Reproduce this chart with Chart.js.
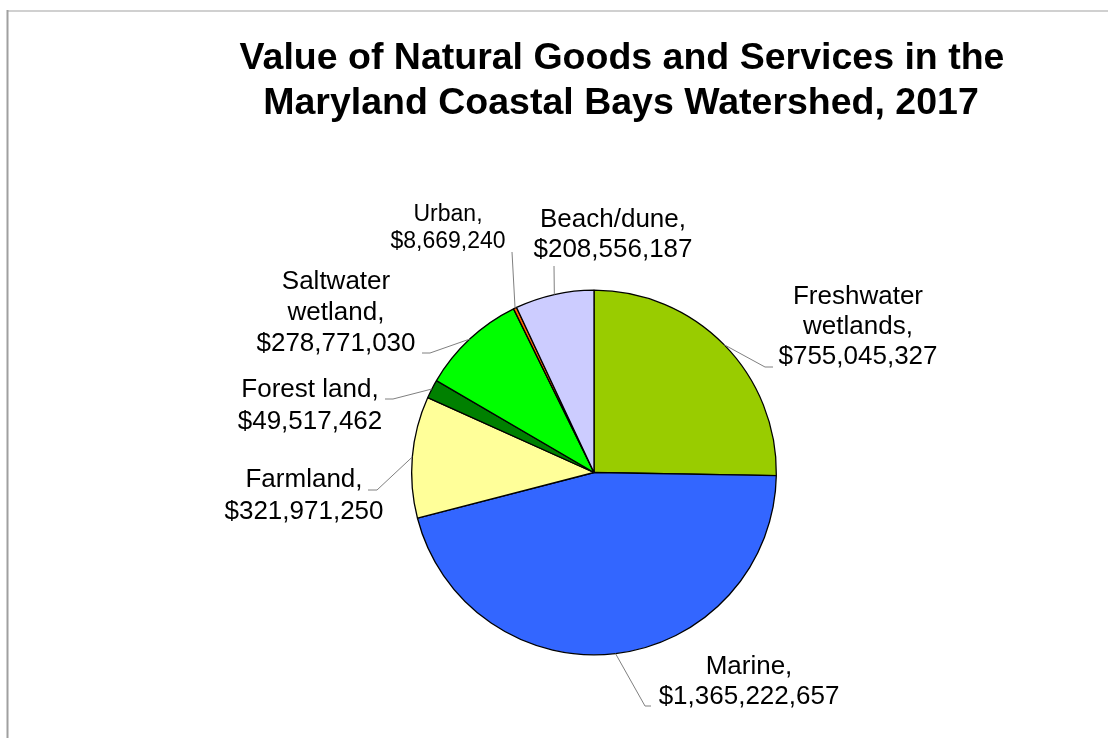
<!DOCTYPE html>
<html>
<head>
<meta charset="utf-8">
<script src="https://cdn.jsdelivr.net/npm/chart.js@4"></script>
<style>
  html, body { margin: 0; padding: 0; background: #fff; }
  #chart { display: block; }
</style>
</head>
<body>
<canvas id="chart" width="1109" height="738"></canvas>
<script>
'use strict'

const titleLines = [
  'Value of Natural Goods and Services in the',
  'Maryland Coastal Bays Watershed, 2017'
]

const categories = [
  'Freshwater wetlands',
  'Marine',
  'Farmland',
  'Forest land',
  'Saltwater wetland',
  'Urban',
  'Beach/dune'
]

const values = [
  755045327,
  1365222657,
  321971250,
  49517462,
  278771030,
  8669240,
  208556187
]

// label text as printed next to each slice (line breaks included)
const labelLines = [
  ['Freshwater', 'wetlands,'],
  ['Marine,'],
  ['Farmland,'],
  ['Forest land,'],
  ['Saltwater', 'wetland,'],
  ['Urban,'],
  ['Beach/dune,']
]

const colors = ['#99CC00', '#3366FF', '#FFFF99', '#008000', '#00FF00', '#FF6600', '#CCCCFF']

// where each label sits and how its leader line bends (x, y in canvas px)
const labelLayout = [
  { x: 858, y: 297, size: 26, lh: 30, elbow: [765, 367], end: [773, 367] },
  { x: 749, y: 667, size: 26, lh: 30, elbow: [645, 706], end: [651, 706] },
  { x: 304, y: 480, size: 26, lh: 32, elbow: [377, 490], end: [368, 490] },
  { x: 310, y: 390, size: 26, lh: 32, elbow: [393, 399], end: [385, 399] },
  { x: 336, y: 282, size: 26, lh: 31, elbow: [430, 353], end: [422, 353] },
  { x: 448, y: 215, size: 23, lh: 27, elbow: null, end: [512, 252] },
  { x: 613, y: 220, size: 26, lh: 30, elbow: null, end: [554, 266] }
]

const money = v => '$' + v.toLocaleString('en-US')

const decorations = {
  id: 'decorations',
  beforeDraw(chart) {
    const ctx = chart.ctx
    ctx.save()
    ctx.fillStyle = '#fff'
    ctx.fillRect(0, 0, chart.width, chart.height)
    // frame edges
    ctx.strokeStyle = '#d0d0d0'
    ctx.lineWidth = 2
    ctx.beginPath()
    ctx.moveTo(7, 11)
    ctx.lineTo(1108, 11)
    ctx.stroke()
    ctx.strokeStyle = '#a0a0a0'
    ctx.beginPath()
    ctx.moveTo(7.5, 10)
    ctx.lineTo(7.5, chart.height)
    ctx.stroke()

    ctx.fillStyle = '#000'
    ctx.font = 'bold 37.5px "Liberation Sans", Arial, sans-serif'
    ctx.textAlign = 'center'
    ctx.textBaseline = 'alphabetic'
    ctx.fillText(titleLines[0], 622, 69)
    ctx.fillText(titleLines[1], 621, 114)
    ctx.restore()
  },
  afterDraw(chart) {
    const ctx = chart.ctx
    const arcs = chart.getDatasetMeta(0).data
    ctx.save()
    arcs.forEach((arc, i) => {
      const layout = labelLayout[i]
      const mid = (arc.startAngle + arc.endAngle) / 2
      const sx = arc.x + Math.cos(mid) * arc.outerRadius
      const sy = arc.y + Math.sin(mid) * arc.outerRadius

      ctx.strokeStyle = '#808080'
      ctx.lineWidth = 1
      ctx.beginPath()
      ctx.moveTo(sx, sy)
      if (layout.elbow) ctx.lineTo(layout.elbow[0], layout.elbow[1])
      ctx.lineTo(layout.end[0], layout.end[1])
      ctx.stroke()

      const lines = labelLines[i].concat([money(values[i])])
      ctx.fillStyle = '#000'
      ctx.font = layout.size + 'px "Liberation Sans", Arial, sans-serif'
      ctx.textAlign = 'center'
      ctx.textBaseline = 'middle'
      lines.forEach((t, k) => ctx.fillText(t, layout.x, layout.y + k * layout.lh))
    })
    ctx.restore()
  }
}

new Chart(document.getElementById('chart'), {
  type: 'pie',
  data: {
    labels: categories,
    datasets: [{
      data: values,
      backgroundColor: colors,
      borderColor: '#000',
      borderWidth: 1.3
    }]
  },
  options: {
    responsive: false,
    animation: false,
    devicePixelRatio: 1,
    layout: { padding: { left: 411, right: 332, top: 289, bottom: 82 } },
    plugins: {
      legend: { display: false },
      tooltip: { enabled: false },
      title: { display: false }
    }
  },
  plugins: [decorations]
})
</script>
</body>
</html>
